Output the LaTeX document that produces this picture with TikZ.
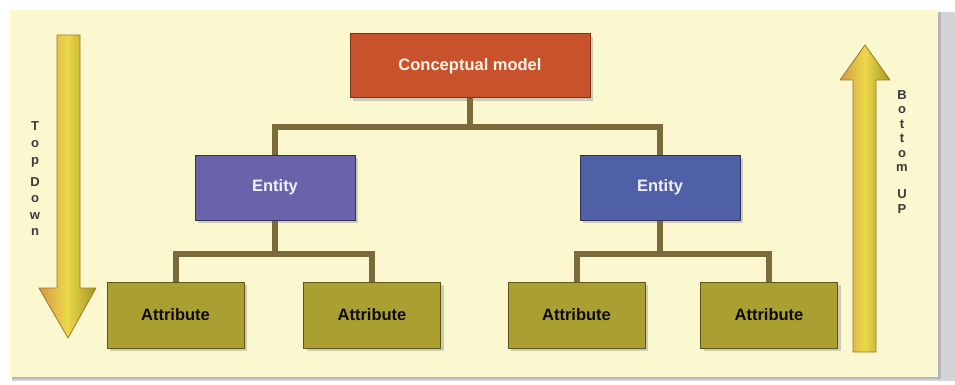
\documentclass[tikz,border=0pt]{standalone}
\usepackage{fontspec}
\setmainfont{Liberation Sans}
\usetikzlibrary{shadows,calc}
\definecolor{paper}{HTML}{FBF7CF}
\definecolor{frame}{HTML}{D4D4D8}
\definecolor{frameedge}{HTML}{B4B4BA}
\definecolor{modelfill}{HTML}{C8522B}
\definecolor{modeledge}{HTML}{7A3518}
\definecolor{entfillA}{HTML}{6B63A9}
\definecolor{entfillB}{HTML}{4F60A6}
\definecolor{entedge}{HTML}{33305E}
\definecolor{attfill}{HTML}{AAA032}
\definecolor{attedge}{HTML}{5E5418}
\definecolor{linkcol}{HTML}{7B6B3A}
\definecolor{arrowlight}{HTML}{ECD84A}
\definecolor{arroworange}{HTML}{D79A45}
\definecolor{arrowdark}{HTML}{A39422}
\definecolor{arrowedge}{HTML}{9C7A2C}
\definecolor{sidetext}{HTML}{3A3A3A}
\begin{document}
\begin{tikzpicture}[x=1pt,y=-1pt,
  box/.style={rectangle, inner sep=0pt, line width=1pt,
    font=\fontsize{16.5}{18}\selectfont\bfseries,
    drop shadow={shadow xshift=3pt, shadow yshift=-3pt, fill=black!45, opacity=0.4}},
  modelbox/.style={box, fill=modelfill, draw=modeledge, text=white!92!orange,
    minimum width=240pt, minimum height=64pt},
  entbox/.style={box, draw=entedge, text=white!94!blue,
    minimum width=160pt, minimum height=65pt},
  attbox/.style={box, fill=attfill, draw=attedge, text=black!92!brown,
    minimum width=137pt, minimum height=66pt},
  link/.style={draw=linkcol, line width=6pt},
  bigarrow/.style={draw=arrowedge, line width=0.8pt, left color=arroworange,
    right color=arrowdark, middle color=arrowlight, line join=round},
  sidelabel/.style={font=\fontsize{13}{14}\selectfont\bfseries, text=sidetext,
    align=center, inner sep=0pt}
]
\useasboundingbox (0,0) rectangle (955,385);
% sheet with its grey edge
\fill[white] (0,0) rectangle (955,385);
\fill[frame] (12,12) rectangle (955,381);
\fill[frameedge] (12,376) rectangle (938,379);
\fill[frameedge] (938,12) rectangle (941,379);
\fill[paper] (10,10) rectangle (938,377);

% boxes
\node[modelbox] (cm) at (470,66) {Conceptual model};
\node[entbox, fill=entfillA] (e1) at (275,187.5) {Entity};
\node[entbox, fill=entfillB] (e2) at (660,187.5) {Entity};
\node[attbox] (a1) at (175.5,315) {Attribute};
\node[attbox] (a2) at (372,315) {Attribute};
\node[attbox] (a3) at (576.5,315) {Attribute};
\node[attbox] (a4) at (769,315) {Attribute};

% junction levels of the tree
\coordinate (j0) at (0,127);
\coordinate (j1) at (0,254);

% connectors
\path[link] (cm.south) -- (cm.south |- j0);
\path[link] (e1.north) |- (cm.south |- j0) -| (e2.north);
\path[link] (e1.south) -- (e1.south |- j1);
\path[link] (a1.north) |- (e1.south |- j1) -| (a2.north);
\path[link] (e2.south) -- (e2.south |- j1);
\path[link] (a3.north) |- (e2.south |- j1) -| (a4.north);

% top-down arrow
\path[bigarrow] (57,35) -- (80,35) -- (80,288) -- (96,288) -- (68,338)
  -- (39,288) -- (57,288) -- cycle;
\node[sidelabel, anchor=north] (td) at (35,121)
  {T\\[3pt]o\\[3pt]p\\[8pt]D\\[2.5pt]o\\[2.5pt]w\\[2.5pt]n};

% bottom-up arrow
\path[bigarrow] (853,352) -- (876,352) -- (876,80) -- (890,80) -- (865,45)
  -- (840,80) -- (853,80) -- cycle;
\node[sidelabel, anchor=north] (bu) at (902,90)
  {B\\[0.5pt]o\\[0.5pt]t\\[0.5pt]t\\[0.5pt]o\\[0.5pt]m\\[13pt]U\\[0.5pt]P};
\end{tikzpicture}
\end{document}
